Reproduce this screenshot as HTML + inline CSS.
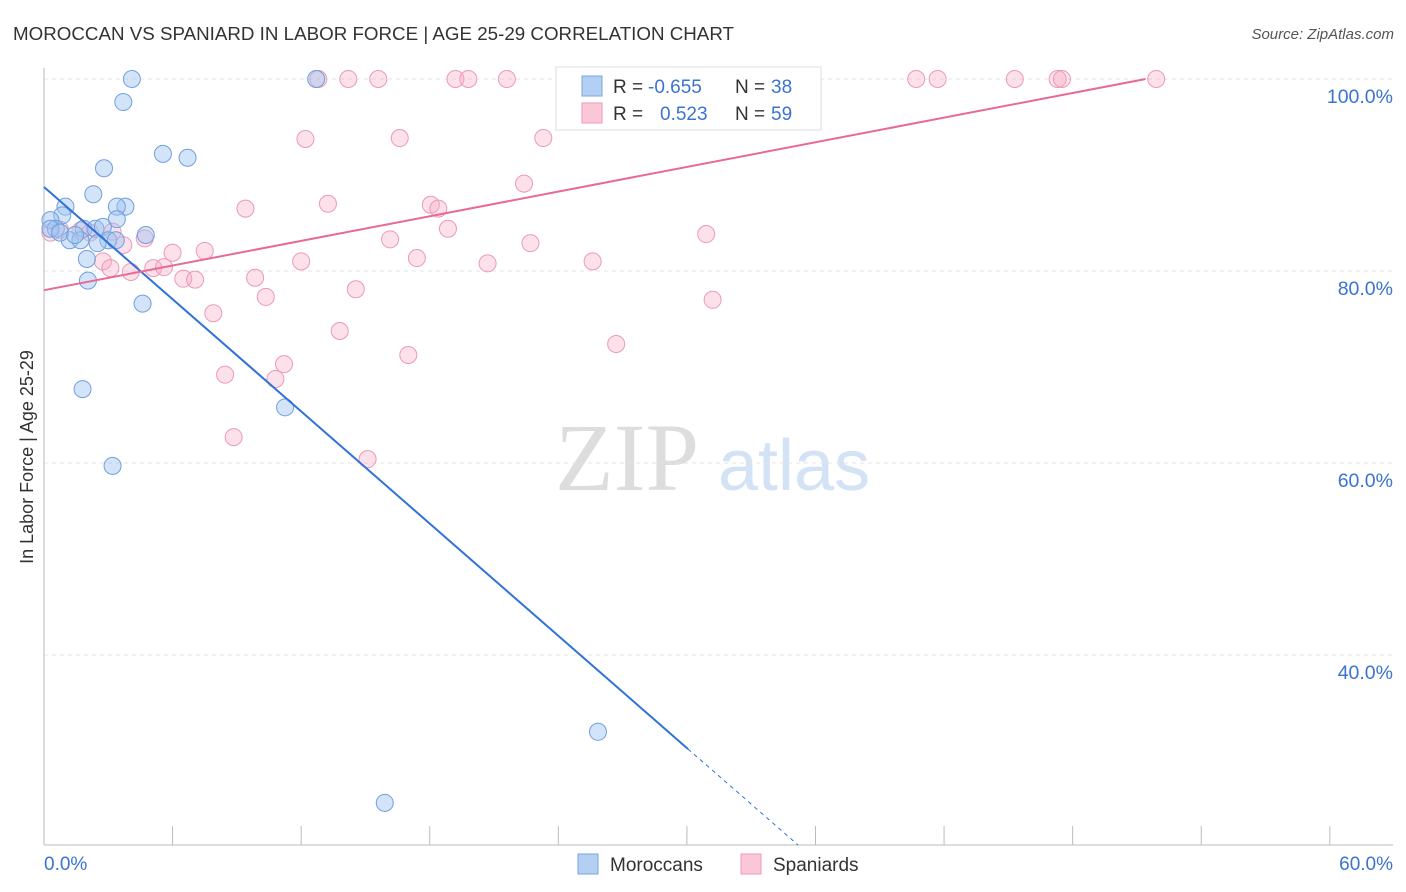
<!DOCTYPE html>
<html><head><meta charset="utf-8"><style>
body{margin:0;background:#fff;font-family:"Liberation Sans",sans-serif}
svg{display:block}
</style></head><body>
<svg id="chart" width="1406" height="892" xmlns="http://www.w3.org/2000/svg">
<text x="13" y="40" font-size="18" fill="#333" textLength="721" lengthAdjust="spacingAndGlyphs">MOROCCAN VS SPANIARD IN LABOR FORCE | AGE 25-29 CORRELATION CHART</text>
<text x="1394" y="39" font-size="15" fill="#555" text-anchor="end" font-style="italic">Source: ZipAtlas.com</text>
<text x="33" y="457" font-size="18" fill="#333" text-anchor="middle" transform="rotate(-90 33 457)">In Labor Force | Age 25-29</text>
<g><text x="555" y="490" font-size="96" fill="#ddd" font-family="Liberation Serif,serif">ZIP</text><text x="718" y="490" font-size="72" fill="#d3e2f4">atlas</text></g>
<g id="grid"></g><g id="axes"></g><g id="marks"></g>
<g>
<rect x="556" y="67" width="265" height="63" fill="#fff" stroke="#ddd"/>
<rect x="582" y="76" width="20" height="20" fill="#b3cff3" stroke="#7aa6e3"/>
<text x="613" y="93" font-size="19" fill="#333">R =</text>
<text x="648" y="93" font-size="19" fill="#3b73d1">-0.655</text>
<text x="735" y="93" font-size="19" fill="#333">N =</text>
<text x="771" y="93" font-size="19" fill="#3b73d1">38</text>
<rect x="582" y="103" width="20" height="20" fill="#f9c7d7" stroke="#ee9ab6"/>
<text x="613" y="120" font-size="19" fill="#333">R =</text>
<text x="660" y="120" font-size="19" fill="#3b73d1">0.523</text>
<text x="735" y="120" font-size="19" fill="#333">N =</text>
<text x="771" y="120" font-size="19" fill="#3b73d1">59</text>
</g>
<g>
<rect x="578" y="854" width="20" height="20" fill="#b3cff3" stroke="#7aa6e3"/>
<text x="610" y="871" font-size="19" fill="#333">Moroccans</text>
<rect x="741" y="854" width="20" height="20" fill="#f9c7d7" stroke="#ee9ab6"/>
<text x="773" y="871" font-size="19" fill="#333">Spaniards</text>
</g>
</svg>
<script>
const yTicks=[100,80,60,40];
const xTickLabels=["0.0%","60.0%"];
const blueX=[4.1,3.7,12.7,5.55,6.7,2.8,2.3,3.8,3.4,1.0,0.85,0.3,3.4,0.55,1.85,2.4,2.75,4.75,1.2,1.7,3.0,3.35,2.5,2.0,2.05,4.6,1.8,11.25,3.2,25.85,15.9,0.3,0.75,1.45];
const blueY=[100,97.6,100,92.2,91.8,90.7,88.0,86.7,86.7,86.7,85.8,85.3,85.4,84.4,84.4,84.4,84.6,83.75,83.2,83.2,83.2,83.2,82.9,81.25,79.0,76.6,67.7,65.8,59.7,32.0,24.6,84.4,84.0,83.75];
const pinkX=[12.8,14.2,15.6,19.2,19.8,21.6,24.8,29.4,40.7,41.7,45.3,47.3,47.5,51.9,12.2,16.6,23.3,22.4,9.4,13.25,18.05,18.4,18.85,16.15,22.7,30.9,3.7,7.5,6.0,2.75,12.0,17.4,20.7,25.6,3.1,4.05,5.1,5.6,9.85,6.5,7.05,10.35,14.55,7.9,31.2,13.8,17.0,26.7,11.2,8.45,10.8,8.85,15.1,0.3,0.75,1.7,2.15,4.7,3.2];
const pinkY=[100,100,100,100,100,100,100,100,100,100,100,100,100,100,93.75,93.85,93.85,89.1,86.5,87.0,86.9,86.5,84.4,83.3,82.9,83.85,82.7,82.1,81.9,81.0,81.0,81.35,80.8,81.0,80.3,79.9,80.3,80.4,79.3,79.2,79.1,77.3,78.1,75.6,77.0,73.75,71.25,72.4,70.3,69.2,68.75,62.7,60.4,84.0,84.3,84.2,84.0,83.4,84.1];
const blueLine=[88.75,-1.948]; // intercept, slope
const pinkLine=[78.0,0.428];
const NS="http://www.w3.org/2000/svg";
const sx=v=>44+v*21.43, sy=v=>79+(100-v)*9.6;
function mk(t,a,p){const e=document.createElementNS(NS,t);for(const k in a)e.setAttribute(k,a[k]);p.appendChild(e);return e;}
const grid=document.getElementById('grid'),axes=document.getElementById('axes'),marks=document.getElementById('marks');
yTicks.forEach(t=>{
 const l=mk('line',{x1:44,x2:1393,y1:sy(t),y2:sy(t),stroke:'#e4e4e4','stroke-dasharray':'4,4'},grid);
 
 
 const tx=mk('text',{x:1393,y:sy(t)+24,'font-size':19.5,fill:'#3b73d1','text-anchor':'end'},axes);
 tx.textContent=t.toFixed(1)+'%';
 
 
});
mk('line',{x1:44,x2:44,y1:68,y2:845,stroke:'#bbb'},axes);
mk('line',{x1:44,x2:1393,y1:845,y2:845,stroke:'#bbb'},axes);
for(let i=0;i<=10;i++){mk('line',{x1:sx(i*6),x2:sx(i*6),y1:826,y2:845,stroke:'#bbb'},axes);}
const xl0=mk('text',{x:44,y:870,'font-size':19,fill:'#3b73d1'},axes);xl0.textContent=xTickLabels[0];


const xl1=mk('text',{x:1393,y:870,'font-size':19,fill:'#3b73d1','text-anchor':'end'},axes);xl1.textContent=xTickLabels[1];


pinkX.forEach((x,i)=>{const c=mk('circle',{cx:sx(x),cy:sy(pinkY[i]),r:8.5,fill:'rgba(245,170,196,0.35)',stroke:'#eb9ab6','stroke-width':1},marks);
 
 });
blueX.forEach((x,i)=>{const c=mk('circle',{cx:sx(x),cy:sy(blueY[i]),r:8.5,fill:'rgba(160,196,240,0.45)',stroke:'#6f9fe0','stroke-width':1},marks);
 
 });
const bEnd=30.05, bY=v=>blueLine[0]+blueLine[1]*v;
const bl=mk('line',{x1:sx(0),y1:sy(bY(0)),x2:sx(bEnd),y2:sy(bY(bEnd)),stroke:'#2f72d8','stroke-width':2},marks);


const xEndD=(20.2-blueLine[0])/blueLine[1];
const bd=mk('line',{x1:sx(bEnd),y1:sy(bY(bEnd)),x2:sx(xEndD),y2:sy(20.2),stroke:'#2f72d8','stroke-width':1,'stroke-dasharray':'4,4'},marks);


const pEnd=(100-pinkLine[0])/pinkLine[1];
const pl=mk('line',{x1:sx(0),y1:sy(pinkLine[0]),x2:sx(pEnd),y2:sy(100),stroke:'#e86a94','stroke-width':2},marks);


</script>
</body></html>
